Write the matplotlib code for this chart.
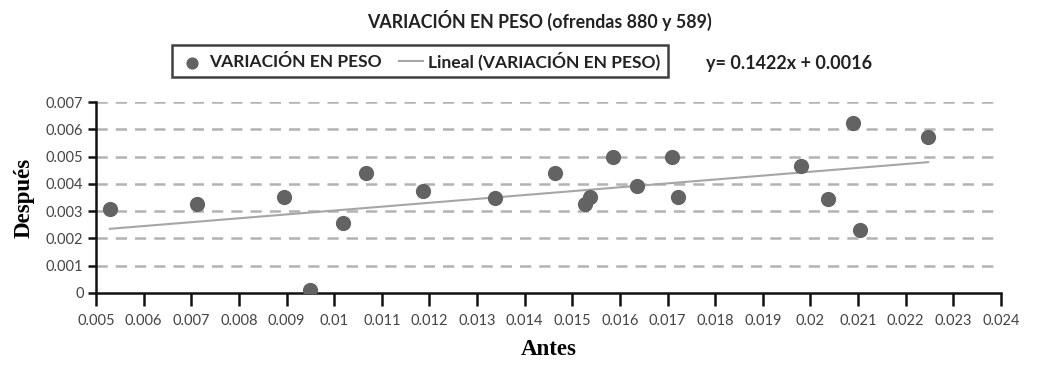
import matplotlib
matplotlib.use("Agg")
import matplotlib.pyplot as plt
import numpy as np

plt.rcParams['font.family'] = ['Lato', 'DejaVu Sans']

antes = [0.00529, 0.00712, 0.00895, 0.00949, 0.01018, 0.01067, 0.01186, 0.01338,
         0.01464, 0.01526, 0.01537, 0.01585, 0.01636, 0.01709, 0.01722,
         0.01980, 0.02037, 0.02089, 0.02104, 0.02247]
despues = [0.00307, 0.00325, 0.00353, 0.00011, 0.00258, 0.00441, 0.00374, 0.00349,
           0.00441, 0.00325, 0.00353, 0.00499, 0.00392, 0.00499, 0.00353,
           0.00465, 0.00344, 0.00622, 0.00232, 0.00573]
slope = 0.1422
intercept = 0.0016
xticks = [0.005, 0.006, 0.007, 0.008, 0.009, 0.01, 0.011, 0.012, 0.013, 0.014,
          0.015, 0.016, 0.017, 0.018, 0.019, 0.02, 0.021, 0.022, 0.023, 0.024]
yticks = [0, 0.001, 0.002, 0.003, 0.004, 0.005, 0.006, 0.007]

fig = plt.figure(figsize=(10.38, 3.82), dpi=100)
ax = fig.add_axes([96/1038, 1-293/382, (1001-96)/1038, (293-102)/382])

for yv in yticks[1:]:
    ax.axhline(yv, color='#b3b3b3', lw=1.8, dashes=(4.5, 3.2), zorder=1)

ax.scatter(antes, despues, s=120, color='#636363', zorder=3, linewidths=0,
           label='VARIACIÓN EN PESO')
xl = np.array([min(antes), max(antes)])
ax.plot(xl, slope*xl + intercept, color='#a6a6a6', lw=1.5, zorder=2,
        label='Lineal (VARIACIÓN EN PESO)')

ax.set_xlim(0.005, 0.024)
ax.set_ylim(0, 0.007)
ax.set_xticks(xticks)
ax.set_xticklabels([('%g' % v) for v in xticks])
ax.set_yticks(yticks)
ax.set_yticklabels([('%g' % v) for v in yticks])
ax.tick_params(axis='x', direction='out', length=9, width=1.8, colors='#111111',
               labelcolor='#444444', labelsize=10.5, pad=6)
ax.tick_params(axis='y', direction='out', length=6, width=1.8, colors='#111111',
               labelcolor='#444444', labelsize=10.5, pad=3)
for s in ['top', 'right']:
    ax.spines[s].set_visible(False)
for s in ['left', 'bottom']:
    ax.spines[s].set_linewidth(1.8)
    ax.spines[s].set_color('#111111')
ax.set_clip_on(False)

ax.set_xlabel('Antes', fontsize=16.5, fontweight='bold', family='Liberation Serif',
              labelpad=8)
ax.set_ylabel('Después', fontsize=16.5, fontweight='bold', family='Liberation Serif',
              labelpad=8)

fig.text(0.52, 1-20/382, 'VARIACIÓN EN PESO (ofrendas 880 y 589)', ha='center',
         va='center', fontsize=12.8, fontweight='bold', color='#222222')

leg = fig.legend(loc='center', bbox_to_anchor=(420/1038, 1-61/382), ncol=2,
                 frameon=True, fancybox=False, fontsize=12.5, handlelength=1.4,
                 columnspacing=1.0, handletextpad=0.3, borderpad=0.4,
                 markerscale=0.8)
leg.get_frame().set_edgecolor('#111111')
leg.get_frame().set_linewidth(1.8)
for t in leg.get_texts():
    t.set_fontweight('bold')
    t.set_color('#222222')

fig.text(706/1038, 1-63/382, 'y= 0.1422x + 0.0016', ha='left', va='center',
         fontsize=13, fontweight='bold', color='#222222')

fig.savefig('out.png', dpi=100)
